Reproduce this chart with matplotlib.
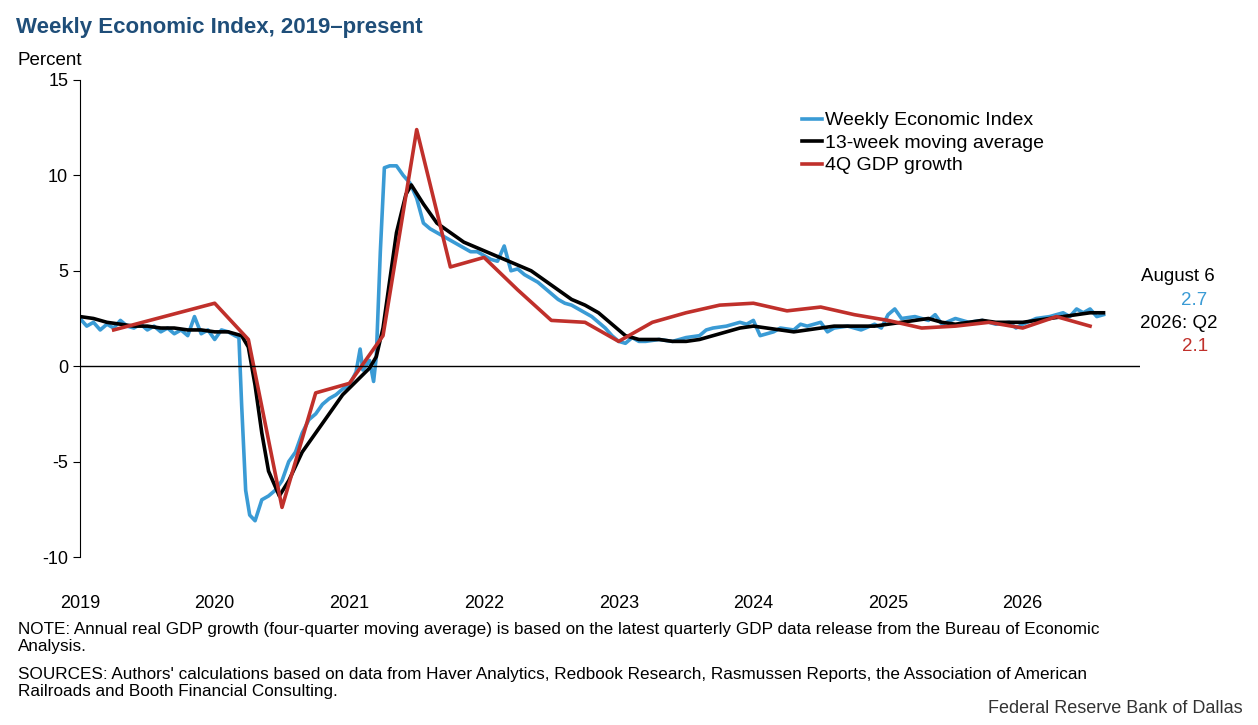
import numpy as np
import matplotlib
matplotlib.use("Agg")
import matplotlib.pyplot as plt

plt.rcParams['font.family'] = ['Liberation Sans', 'DejaVu Sans']

# Weekly Economic Index (decimal year, percent)
wei_x = [2019.0, 2019.05, 2019.1, 2019.15, 2019.2, 2019.25, 2019.3, 2019.35, 2019.4, 2019.45, 2019.5, 2019.55,
         2019.6, 2019.65, 2019.7, 2019.75, 2019.8, 2019.85, 2019.9, 2019.95,
         2020.0, 2020.05, 2020.1, 2020.15, 2020.18, 2020.2, 2020.23, 2020.26, 2020.3, 2020.35, 2020.4, 2020.45,
         2020.5, 2020.55, 2020.6, 2020.65, 2020.7, 2020.75, 2020.8, 2020.85, 2020.9, 2020.95,
         2021.0, 2021.05, 2021.08, 2021.1, 2021.15, 2021.18, 2021.2, 2021.23, 2021.26, 2021.3, 2021.35, 2021.4,
         2021.45, 2021.5, 2021.55, 2021.6, 2021.65, 2021.7, 2021.75, 2021.8, 2021.85, 2021.9, 2021.95,
         2022.0, 2022.05, 2022.1, 2022.15, 2022.2, 2022.25, 2022.3, 2022.35, 2022.4, 2022.45, 2022.5, 2022.55,
         2022.6, 2022.65, 2022.7, 2022.75, 2022.8, 2022.85, 2022.9, 2022.95,
         2023.0, 2023.05, 2023.1, 2023.15, 2023.2, 2023.3, 2023.4, 2023.5, 2023.6, 2023.65, 2023.7, 2023.8, 2023.9, 2023.95,
         2024.0, 2024.05, 2024.1, 2024.15, 2024.2, 2024.3, 2024.35, 2024.4, 2024.5, 2024.55, 2024.6, 2024.7, 2024.8, 2024.9, 2024.95,
         2025.0, 2025.05, 2025.1, 2025.2, 2025.3, 2025.35, 2025.4, 2025.5, 2025.6, 2025.7, 2025.8, 2025.9, 2025.95,
         2026.0, 2026.1, 2026.2, 2026.3, 2026.35, 2026.4, 2026.45, 2026.5, 2026.55, 2026.6]
wei = [2.5, 2.1, 2.3, 1.9, 2.2, 2.0, 2.4, 2.1, 2.0, 2.2, 1.9, 2.1,
       1.8, 2.0, 1.7, 1.9, 1.6, 2.6, 1.7, 1.9,
       1.4, 1.9, 1.8, 1.6, 1.5, -2.0, -6.5, -7.8, -8.1, -7.0, -6.8, -6.5,
       -6.0, -5.0, -4.5, -3.5, -2.8, -2.5, -2.0, -1.7, -1.5, -1.2,
       -1.0, -0.3, 0.9, -0.2, 0.3, -0.8, 0.5, 6.0, 10.4, 10.5, 10.5, 10.0,
       9.6, 8.8, 7.5, 7.2, 7.0, 6.8, 6.6, 6.4, 6.2, 6.0, 6.0,
       5.8, 5.6, 5.5, 6.3, 5.0, 5.1, 4.8, 4.6, 4.4, 4.1, 3.8, 3.5,
       3.3, 3.2, 3.0, 2.8, 2.6, 2.3, 2.0, 1.6,
       1.3, 1.2, 1.5, 1.3, 1.3, 1.4, 1.3, 1.5, 1.6, 1.9, 2.0, 2.1, 2.3, 2.2,
       2.4, 1.6, 1.7, 1.8, 2.0, 1.9, 2.2, 2.1, 2.3, 1.8, 2.0, 2.1, 1.9, 2.2, 2.0,
       2.7, 3.0, 2.5, 2.6, 2.4, 2.7, 2.2, 2.5, 2.3, 2.4, 2.2, 2.3, 2.0,
       2.2, 2.5, 2.6, 2.8, 2.6, 3.0, 2.8, 3.0, 2.6, 2.7]

# 13-week moving average
ma_x = [2019.0, 2019.1, 2019.2, 2019.3, 2019.4, 2019.5, 2019.6, 2019.7, 2019.8, 2019.9,
        2020.0, 2020.1, 2020.2, 2020.25, 2020.3, 2020.35, 2020.4, 2020.48, 2020.55, 2020.65, 2020.75, 2020.85, 2020.95,
        2021.05, 2021.15, 2021.2, 2021.25, 2021.3, 2021.35, 2021.42, 2021.46, 2021.55, 2021.65, 2021.75, 2021.85, 2021.95,
        2022.05, 2022.15, 2022.25, 2022.35, 2022.45, 2022.55, 2022.65, 2022.75, 2022.85, 2022.95,
        2023.05, 2023.15, 2023.3, 2023.4, 2023.5, 2023.6, 2023.7, 2023.8, 2023.9,
        2024.0, 2024.1, 2024.2, 2024.3, 2024.4, 2024.5, 2024.6, 2024.7, 2024.8, 2024.9,
        2025.0, 2025.1, 2025.2, 2025.3, 2025.4, 2025.5, 2025.6, 2025.7, 2025.8, 2025.9,
        2026.0, 2026.1, 2026.2, 2026.3, 2026.4, 2026.5, 2026.6]
ma = [2.6, 2.5, 2.3, 2.2, 2.1, 2.1, 2.0, 2.0, 1.9, 1.9,
      1.8, 1.8, 1.6, 1.0, -1.0, -3.5, -5.5, -6.8, -6.0, -4.5, -3.5, -2.5, -1.5,
      -0.8, -0.1, 0.5, 2.0, 4.5, 7.0, 9.0, 9.5, 8.5, 7.5, 7.0, 6.5, 6.2,
      5.9, 5.6, 5.3, 5.0, 4.5, 4.0, 3.5, 3.2, 2.8, 2.2,
      1.6, 1.4, 1.4, 1.3, 1.3, 1.4, 1.6, 1.8, 2.0,
      2.1, 2.0, 1.9, 1.8, 1.9, 2.0, 2.1, 2.1, 2.1, 2.1,
      2.2, 2.3, 2.4, 2.5, 2.3, 2.2, 2.3, 2.4, 2.3, 2.3,
      2.3, 2.4, 2.5, 2.6, 2.7, 2.8, 2.8]

gdp_x = [2019.25, 2020.0, 2020.25, 2020.5, 2020.75, 2021.0, 2021.25, 2021.5, 2021.75, 2022.0, 2022.25,
         2022.5, 2022.75, 2023.0, 2023.25, 2023.5, 2023.75, 2024.0, 2024.25, 2024.5, 2024.75, 2025.0,
         2025.25, 2025.5, 2025.75, 2026.0, 2026.25, 2026.5]
gdp = [1.9, 3.3, 1.4, -7.4, -1.4, -0.9, 1.6, 12.4, 5.2, 5.7, 4.0, 2.4, 2.3, 1.3, 2.3, 2.8, 3.2, 3.3,
       2.9, 3.1, 2.7, 2.4, 2.0, 2.1, 2.3, 2.0, 2.6, 2.1]

years = list(range(2019, 2027))

fig = plt.figure(figsize=(12.58, 7.25), dpi=100)
ax = fig.add_axes([0.0636, 0.2317, 0.8425, 0.658])
blue, red = '#3a9bd5', '#c0302b'
ax.plot(wei_x, wei, color=blue, lw=2.6, label='Weekly Economic Index')
ax.plot(ma_x, ma, color='black', lw=2.6, label='13-week moving average')
ax.plot(gdp_x, gdp, color=red, lw=2.6, label='4Q GDP growth')
ax.axhline(0, color='black', lw=1)
ax.set_xlim(2019, 2026.87)
ax.set_ylim(-10, 15)
ax.set_yticks([-10, -5, 0, 5, 10, 15])
ax.set_yticklabels(['-10', '-5', '0', '5', '10', '15'], fontsize=13)
ax.set_xticks(years)
ax.set_xticklabels([str(y) for y in years], fontsize=13)
ax.tick_params(axis='x', length=0, pad=27)
ax.tick_params(axis='y', length=5, direction='out')
for s in ['top', 'right', 'bottom']:
    ax.spines[s].set_visible(False)
ax.legend(loc='upper left', bbox_to_anchor=(0.665, 0.97), frameon=False, fontsize=14,
          handlelength=1.0, handletextpad=0.15, labelspacing=0.25)

fig.text(0.013, 0.955, 'Weekly Economic Index, 2019–present', fontsize=16, fontweight='bold', color='#1f4e79')
fig.text(0.014, 0.910, 'Percent', fontsize=13.5)
fig.text(0.966, 0.612, 'August 6', fontsize=13.5, ha='right')
fig.text(0.960, 0.580, '2.7', fontsize=13.5, ha='right', color=blue)
fig.text(0.968, 0.548, '2026: Q2', fontsize=13.5, ha='right')
fig.text(0.960, 0.516, '2.1', fontsize=13.5, ha='right', color=red)
fig.text(0.014, 0.142, 'NOTE: Annual real GDP growth (four-quarter moving average) is based on the latest quarterly GDP data release from the Bureau of Economic\nAnalysis.', fontsize=12.3, va='top', linespacing=1.15)
fig.text(0.014, 0.080, "SOURCES: Authors' calculations based on data from Haver Analytics, Redbook Research, Rasmussen Reports, the Association of American\nRailroads and Booth Financial Consulting.", fontsize=12.3, va='top', linespacing=1.15)
fig.text(0.988, 0.017, 'Federal Reserve Bank of Dallas', fontsize=13, ha='right', color='#333333')
fig.savefig('out.png', dpi=100)
